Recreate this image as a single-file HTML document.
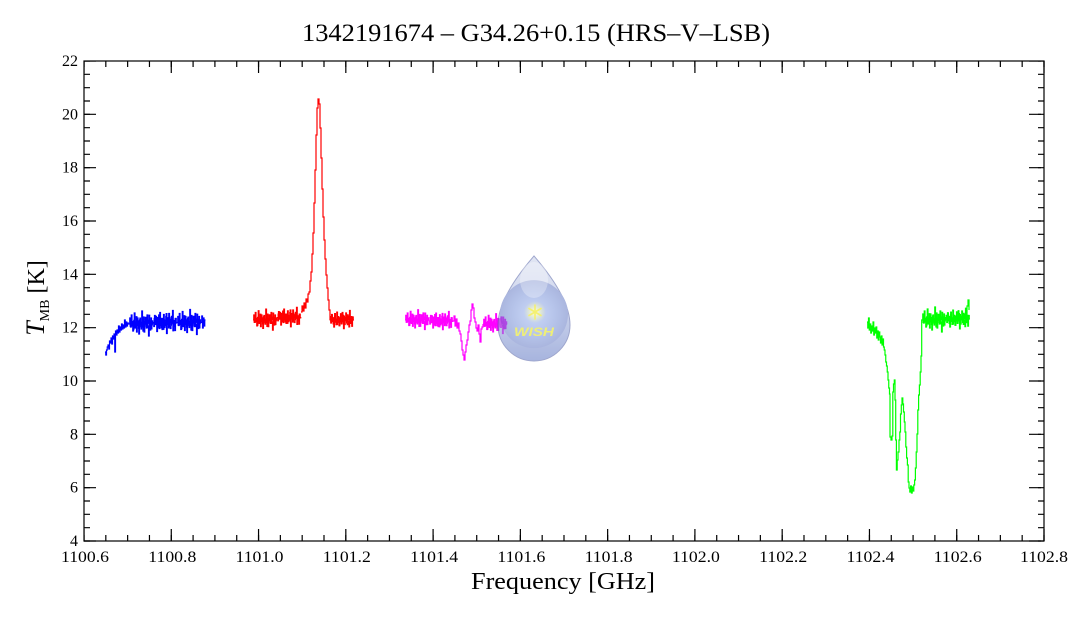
<!DOCTYPE html>
<html>
<head>
<meta charset="utf-8">
<style>
html,body{margin:0;padding:0;background:#fff;}
svg{display:block;}
</style>
</head>
<body>
<svg width="1068" height="618" viewBox="0 0 1068 618" xmlns="http://www.w3.org/2000/svg" xmlns:xlink="http://www.w3.org/1999/xlink">
<defs>
  <path id="nA" fill="none" d="M0 0H.75V-6H1.5V3H2.25V-9H3V2H3.75V7H4.5V-3H5.25V-11H6V4H6.75V-2H7.5V8H8.25V-6H9V1H9.75V10H10.5V-4H11.25V-1H12V5H12.75V-13H13.5V3H14.25V-7H15V8H15.75V0H16.5V-5H17.25V4H18V-9H18.75V2H19.5V12H20.25V-3H21V6H21.75V-6H22.5V1H23.25V0H24"/>
  <path id="nB" fill="none" d="M0 0H.75V4H1.5V-7H2.25V2H3V-3H3.75V9H4.5V-5H5.25V-1H6V6H6.75V-10H7.5V3H8.25V-4H9V7H9.75V2H10.5V-8H11.25V5H12V-2H12.75V-6H13.5V11H14.25V-3H15V1H15.75V-9H16.5V4H17.25V6H18V-5H18.75V0H19.5V-12H20.25V3H21V-2H21.75V8H22.5V-4H23.25V0H24"/>
  <linearGradient id="dropG" x1="0" y1="256" x2="0" y2="361" gradientUnits="userSpaceOnUse">
    <stop offset="0" stop-color="rgb(200,208,234)"/>
    <stop offset="0.4" stop-color="rgb(175,188,226)"/>
    <stop offset="1" stop-color="rgb(96,120,196)"/>
  </linearGradient>
  <radialGradient id="ballG" cx="534" cy="314" r="38" gradientUnits="userSpaceOnUse">
    <stop offset="0" stop-color="rgb(160,185,245)"/>
    <stop offset="0.6" stop-color="rgb(120,145,215)"/>
    <stop offset="1" stop-color="rgb(95,115,190)"/>
  </radialGradient>
  <radialGradient id="glow" cx="535" cy="312" r="11" gradientUnits="userSpaceOnUse">
    <stop offset="0" stop-color="#ffffd0" stop-opacity="1"/>
    <stop offset="1" stop-color="#ffffa0" stop-opacity="0"/>
  </radialGradient>
</defs>
<rect width="1068" height="618" fill="#fff"/>

<g fill="none" stroke-width="1.2">
  <!-- blue -->
  <g stroke="#0000ff">
    <path d="M105 352H105.75V355H106.5V350H107.25V347H108V345H108.75V349H109.5V341H110.25V343H111V338H111.75V344H112.5V336H113.25V339H114V334H114.75V352H115.5V331H116.25V335H117V330H117.75V333H118.5V326H119.25V332H120V327H120.75V330H121.5V324H122.25V329H123V325H123.75V328H124.5V320H125.25V327H126V322H126.75V326H127.5V323H128.25V324H129"/>
    <use xlink:href="#nA" href="#nA" transform="translate(129,324)"/>
    <use xlink:href="#nB" href="#nB" transform="translate(153,322.5)"/>
    <use xlink:href="#nA" href="#nA" transform="translate(177,322.5)"/>
    <use xlink:href="#nB" href="#nB" transform="translate(129.4,323.5) scale(1,0.7)"/>
    <use xlink:href="#nA" href="#nA" transform="translate(153.4,322.5) scale(1,0.7)"/>
    <use xlink:href="#nB" href="#nB" transform="translate(177.4,322.5) scale(1,0.7)"/>
    <path d="M201 322.5H201.75V316H202.5V328H203.25V318H204V326H204.75V320H205.5"/>
  </g>
  <!-- red -->
  <g stroke="#ff0000">
    <use xlink:href="#nA" href="#nA" transform="translate(253,320) scale(1,0.85)"/>
    <use xlink:href="#nB" href="#nB" transform="translate(277,317.5) scale(1,0.85)"/>
    <use xlink:href="#nB" href="#nB" transform="translate(253.4,320) scale(1,0.6)"/>
    <use xlink:href="#nA" href="#nA" transform="translate(277.4,317.5) scale(1,0.6)"/>
    <path d="M301 312H302V306H303V311H304V303H305V308H306V299H307V302H308V294H309V292H310V281H311V272H312V254H313V233H314V203H315V170H316V135H317V108H318V99H319V104H320V128H321V158H322V189H323V217H324V240H325V259H326V275H327V288H328V300H329V310H330V320"/>
    <use xlink:href="#nB" href="#nB" transform="translate(330,320) scale(1,0.8)"/>
    <use xlink:href="#nA" href="#nA" transform="translate(329.4,320) scale(1,0.6)"/>
  </g>
  <!-- magenta -->
  <g stroke="#ff00ff">
    <use xlink:href="#nA" href="#nA" transform="translate(405,320) scale(1,0.8)"/>
    <use xlink:href="#nB" href="#nB" transform="translate(429,321) scale(1,0.8)"/>
    <use xlink:href="#nB" href="#nB" transform="translate(405.4,320) scale(1,0.6)"/>
    <use xlink:href="#nA" href="#nA" transform="translate(429.4,321) scale(1,0.6)"/>
    <path d="M453 321H454V316H455V326H456V319H457V328H458V323H459V331H460V334H461V341H462V350H463V355H464V360H465V352H466V345H467V340H468V332H469V325H470V321H471V310H472V304H473V308H474V318H475V322H476V328H477V331H478V325H479V334H480V342H481V329H482V327H483V324"/>
    <use xlink:href="#nA" href="#nA" transform="translate(483,324) scale(1,0.8)"/>
    <use xlink:href="#nB" href="#nB" transform="translate(483.4,324) scale(1,0.6)"/>
  </g>
  <!-- green -->
  <g stroke="#00ff00">
    <path d="M867 322H867.75V328H868.5V318H869.25V330H870V324H870.75V333H871.5V326H872.25V331H873V322H873.75V335H874.5V328H875.25V333H876V327H876.75V338H877.5V331H878.25V340H879V332H879.75V337H880.5V343H881.25V336H882V345H882.75V339H883.5V347H884.25V350H885V355H885.75V362H886.5V366H887.25V372H888V380H888.75V388H889.5V394H890V437H891V440H892V436H892.8V392H893.5V384H894.3V380H895V400H895.7V440H896.4V470H897.2V460H898V452H899V440H899.8V432H900.5V414H901.3V405H902V398H902.8V404H903.5V412H904.3V422H905V432H905.8V447H906.6V458H907.4V465H908.2V482H909V488H909.8V492H910.6V486H911.4V493H912.2V487H913V491H913.8V485H914.6V480H915.4V468H916.2V452H917V434H917.8V410H918.6V395H919.4V385H920.2V372H921V356H921.7V320H922"/>
    <use xlink:href="#nA" href="#nA" transform="translate(922,320)"/>
    <use xlink:href="#nB" href="#nB" transform="translate(946,319) scale(1,0.9)"/>
    <use xlink:href="#nB" href="#nB" transform="translate(922.4,320) scale(1,0.65)"/>
    <use xlink:href="#nA" href="#nA" transform="translate(945.4,319) scale(1,0.65)"/>
    <path d="M966 316H967V306H968V300H969V310"/>
  </g>
</g>

<!-- WISH logo -->
<g opacity="0.55">
  <path d="M534 256 C540 263 570 297 570 325 A36 36 0 0 1 498 325 C498 297 528 263 534 256Z" fill="url(#dropG)" stroke="rgb(80,95,165)" stroke-width="1"/>
  <path d="M501 306 A34 34 0 0 1 567 306 A34 34 0 1 1 501 306Z" fill="url(#ballG)"/>
  <ellipse cx="534" cy="280" rx="14" ry="18" fill="#ffffff" opacity="0.3"/>
</g>
<circle cx="535" cy="312" r="11" fill="url(#glow)"/>
<g stroke="#f4f070" stroke-width="1.6" stroke-linecap="round">
  <line x1="535" y1="305" x2="535" y2="319"/>
  <line x1="529" y1="308.5" x2="541" y2="315.5"/>
  <line x1="529" y1="315.5" x2="541" y2="308.5"/>
</g>
<text x="534" y="336" text-anchor="middle" font-family="Liberation Sans, sans-serif" font-weight="bold" font-style="italic" font-size="12" fill="#eeee78" textLength="40" lengthAdjust="spacingAndGlyphs">WISH</text>

<!-- frame and ticks -->
<rect x="84" y="61" width="960" height="480" fill="none" stroke="#000" stroke-width="1.2"/>
<g stroke="#000">
  <line x1="84" y1="538" x2="1044.6" y2="538" stroke-width="6" stroke-dasharray="1.2 20.618" stroke-dashoffset="0.6"/>
  <line x1="84" y1="535" x2="1044.6" y2="535" stroke-width="12" stroke-dasharray="1.2 86.073" stroke-dashoffset="0.6"/>
  <line x1="84" y1="64" x2="1044.6" y2="64" stroke-width="6" stroke-dasharray="1.2 20.618" stroke-dashoffset="0.6"/>
  <line x1="84" y1="67" x2="1044.6" y2="67" stroke-width="12" stroke-dasharray="1.2 86.073" stroke-dashoffset="0.6"/>
  <line x1="87" y1="61" x2="87" y2="541.6" stroke-width="6" stroke-dasharray="1.2 12.1333" stroke-dashoffset="0.6"/>
  <line x1="90" y1="61" x2="90" y2="541.6" stroke-width="12" stroke-dasharray="1.2 52.1333" stroke-dashoffset="0.6"/>
  <line x1="1041" y1="61" x2="1041" y2="541.6" stroke-width="6" stroke-dasharray="1.2 12.1333" stroke-dashoffset="0.6"/>
  <line x1="1035" y1="61" x2="1035" y2="541.6" stroke-width="12" stroke-dasharray="1.2 52.1333" stroke-dashoffset="0.6"/>
</g>

<!-- title -->
<text x="302" y="41" font-family="Liberation Serif, serif" font-size="25" fill="#000" textLength="468" lengthAdjust="spacingAndGlyphs">1342191674 – G34.26+0.15 (HRS–V–LSB)</text>

<!-- y tick labels -->
<g font-family="Liberation Serif, serif" font-size="16" fill="#000" text-anchor="end">
  <text x="78" y="546">4</text>
  <text x="78" y="492.7">6</text>
  <text x="78" y="439.3">8</text>
  <text x="78" y="386">10</text>
  <text x="78" y="332.7">12</text>
  <text x="78" y="279.3">14</text>
  <text x="78" y="226">16</text>
  <text x="78" y="172.7">18</text>
  <text x="78" y="119.3">20</text>
  <text x="78" y="66">22</text>
</g>

<!-- x tick labels -->
<g font-family="Liberation Serif, serif" font-size="16" fill="#000" text-anchor="middle">
  <text x="85" y="562" textLength="48" lengthAdjust="spacingAndGlyphs">1100.6</text>
  <text x="172.3" y="562" textLength="48" lengthAdjust="spacingAndGlyphs">1100.8</text>
  <text x="259.5" y="562" textLength="48" lengthAdjust="spacingAndGlyphs">1101.0</text>
  <text x="346.8" y="562" textLength="48" lengthAdjust="spacingAndGlyphs">1101.2</text>
  <text x="434.1" y="562" textLength="48" lengthAdjust="spacingAndGlyphs">1101.4</text>
  <text x="521.4" y="562" textLength="48" lengthAdjust="spacingAndGlyphs">1101.6</text>
  <text x="608.6" y="562" textLength="48" lengthAdjust="spacingAndGlyphs">1101.8</text>
  <text x="695.9" y="562" textLength="48" lengthAdjust="spacingAndGlyphs">1102.0</text>
  <text x="783.2" y="562" textLength="48" lengthAdjust="spacingAndGlyphs">1102.2</text>
  <text x="870.5" y="562" textLength="48" lengthAdjust="spacingAndGlyphs">1102.4</text>
  <text x="957.7" y="562" textLength="48" lengthAdjust="spacingAndGlyphs">1102.6</text>
  <text x="1044" y="562" textLength="48" lengthAdjust="spacingAndGlyphs">1102.8</text>
</g>

<!-- axis titles -->
<text x="471" y="589" font-family="Liberation Serif, serif" font-size="24" fill="#000" textLength="184" lengthAdjust="spacingAndGlyphs">Frequency [GHz]</text>
<text transform="translate(44,298) rotate(-90)" text-anchor="middle" font-family="Liberation Serif, serif" fill="#000"><tspan font-style="italic" font-size="26">T</tspan><tspan font-size="14" dy="5">MB</tspan><tspan font-size="24" dy="-5"> [K]</tspan></text>
</svg>
</body>
</html>
